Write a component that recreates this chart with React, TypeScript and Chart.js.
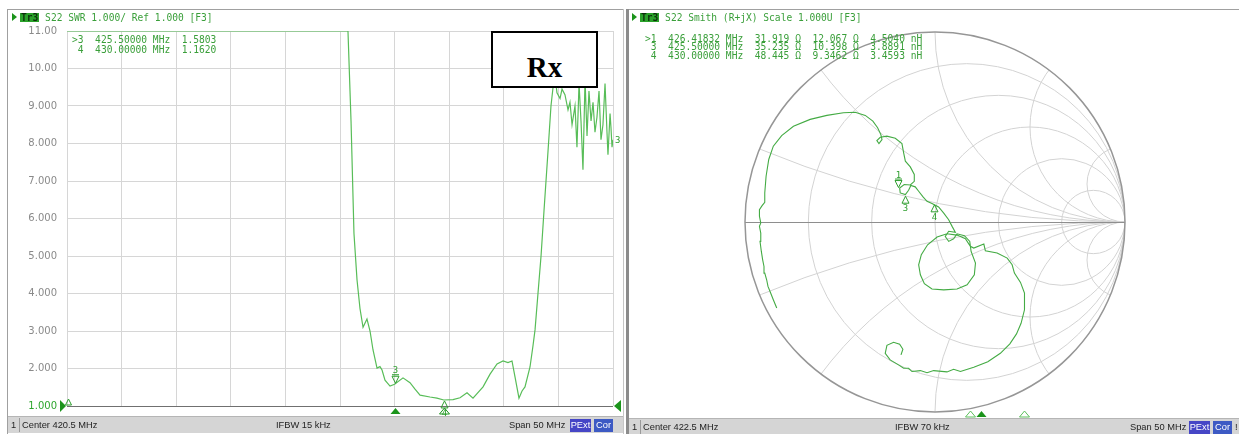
import React, { useEffect, useRef } from 'react';
import { Chart, registerables } from 'chart.js';

Chart.register(...registerables);

// ---------- Left panel: S22 SWR ----------
const swrCenterMHz = 420.5;
const swrSpanMHz = 50;
const swrIfbw = '15 kHz';
const swrGridFreqMHz = [395.5, 400.5, 405.5, 410.5, 415.5, 420.5, 425.5, 430.5, 435.5, 440.5, 445.5];
const swrTickValues = [1, 2, 3, 4, 5, 6, 7, 8, 9, 10, 11];
const swrTickLabels = ['1.000', '2.000', '3.000', '4.000', '5.000', '6.000', '7.000', '8.000', '9.000', '10.00', '11.00'];

const swrFreqMHz = [
  395.5, 421.23, 421.51, 421.78, 422.06, 422.33, 422.61, 422.97, 423.25, 423.52,
  423.89, 424.16, 424.35, 424.62, 425.08, 425.5, 426.27, 426.91, 427.37, 427.83,
  428.74, 429.38, 430.0, 430.85, 431.49, 432.13, 432.68, 433.6, 434.24, 434.88,
  435.43, 435.88, 436.25, 436.53, 436.89, 437.17, 437.44, 437.9, 438.17, 438.36,
  438.63, 438.91, 439.18, 439.55, 439.82, 440.01, 440.19, 440.37, 440.65, 440.83,
  441.1, 441.38, 441.56, 441.75, 442.02, 442.2, 442.39, 442.57, 442.75, 442.94,
  443.12, 443.3, 443.49, 443.67, 443.85, 444.03, 444.22, 444.4, 444.58, 444.77,
  444.95, 445.04, 445.23, 445.32, 445.41, 445.5,
];
const swrValue = [
  11, 11, 8.6, 5.6, 4.36, 3.6, 3.1, 3.32, 3.0, 2.5,
  2.01, 2.05, 1.96, 1.69, 1.53, 1.58, 1.75, 1.62, 1.45, 1.29,
  1.24, 1.21, 1.16, 1.17, 1.22, 1.35, 1.21, 1.51, 1.85, 2.12,
  2.2, 2.16, 2.2, 1.77, 1.21, 1.4, 1.51, 2.04, 2.6, 3.03,
  4.0, 5.0, 6.2, 7.8, 9.0, 9.5, 9.8, 9.35, 9.2, 9.45,
  9.3, 8.9, 9.1, 8.5, 9.0, 7.9, 9.6, 8.6, 7.3, 9.7,
  8.2, 9.4, 8.6, 9.1, 8.3, 8.7, 9.4, 8.1, 8.5, 9.6,
  8.3, 7.7, 8.8, 8.4, 7.9, 8.1,
];
const swrMarkerIds = ['3', '4'];
const swrMarkerFreqMHz = [425.5, 430.0];
const swrMarkerValue = [1.5803, 1.162];

// ---------- Right panel: S22 Smith ----------
const smithCenterMHz = 422.5;
const smithSpanMHz = 50;
const smithIfbw = '70 kHz';
const Z0 = 50;
const smithResistanceCircles = [0.2, 0.5, 1, 2, 5];
const smithReactanceArcs = [0.2, 0.5, 1, 2, 5];

const smithRe = [
  -0.833, -0.851, -0.865, -0.879, -0.886, -0.896, -0.9, -0.907, -0.914, -0.921,
  -0.917, -0.924, -0.917, -0.924, -0.924, -0.91, -0.896, -0.896, -0.889, -0.875,
  -0.851, -0.807, -0.745, -0.657, -0.569, -0.482, -0.42, -0.367, -0.327, -0.302,
  -0.285, -0.279, -0.295, -0.306, -0.288, -0.253, -0.209, -0.174, -0.165, -0.156,
  -0.13, -0.109, -0.109, -0.13, -0.162, -0.186, -0.183, -0.156, -0.139, -0.127,
  -0.104, -0.086, -0.063, -0.042, -0.016, 0.019, 0.046, 0.072, 0.09, 0.107,
  0.072, 0.054, 0.072, 0.098, 0.116, 0.155, 0.183, 0.19, 0.213, 0.207,
  0.169, 0.116, 0.046, -0.016, -0.056, -0.077, -0.086, -0.072, -0.039, 0.011,
  0.063, 0.116, 0.16, 0.186, 0.204, 0.257, 0.265, 0.327, 0.38, 0.406,
  0.418, 0.45, 0.471, 0.471, 0.453, 0.429, 0.394, 0.344, 0.278, 0.204,
  0.134, 0.098, 0.063, -0.007, -0.042, -0.077, -0.121, -0.139, -0.165, -0.192,
  -0.236, -0.262, -0.253, -0.218, -0.186, -0.169, -0.179,
];
const smithIm = [
  -0.453, -0.409, -0.374, -0.339, -0.304, -0.269, -0.234, -0.199, -0.155, -0.102,
  -0.058, -0.023, -0.005, 0.03, 0.065, 0.086, 0.104, 0.153, 0.241, 0.329,
  0.399, 0.455, 0.504, 0.54, 0.561, 0.575, 0.578, 0.561, 0.531, 0.496,
  0.46, 0.434, 0.413, 0.429, 0.446, 0.452, 0.441, 0.413, 0.364, 0.32,
  0.29, 0.25, 0.214, 0.195, 0.197, 0.179, 0.153, 0.144, 0.167, 0.192,
  0.185, 0.162, 0.132, 0.109, 0.097, 0.079, 0.047, 0.012, -0.023, -0.054,
  -0.049, -0.076, -0.102, -0.088, -0.062, -0.072, -0.102, -0.155, -0.216, -0.278,
  -0.33, -0.353, -0.357, -0.353, -0.325, -0.278, -0.225, -0.172, -0.12, -0.079,
  -0.062, -0.069, -0.088, -0.128, -0.137, -0.116, -0.151, -0.163, -0.19, -0.225,
  -0.269, -0.318, -0.374, -0.462, -0.533, -0.589, -0.641, -0.691, -0.735, -0.764,
  -0.787, -0.775, -0.789, -0.782, -0.793, -0.782, -0.787, -0.77, -0.77, -0.752,
  -0.726, -0.691, -0.649, -0.633, -0.643, -0.67, -0.699,
];
const smithMarkerIds = ['1', '3', '4'];
const smithMarkerFreqMHz = [426.41832, 425.5, 430.0];
const smithMarkerR = [31.919, 35.235, 48.445];
const smithMarkerX = [12.067, 10.398, 9.3462];
const smithMarkerL = [4.504, 3.8891, 3.4593];

// ---------- styles ----------
const GREEN_TRACE = '#58bd58';
const GREEN_SMITH = '#44ab44';
const GREEN_MARK = '#2e9e2e';
const GREEN_FILL = '#1b941b';
const GREEN_TEXT = '#3a9f3a';
const MONO = '"DejaVu Sans Mono", monospace';
const SANS = '"Liberation Sans", Arial, sans-serif';

function tri(ctx: CanvasRenderingContext2D, x: number, tipY: number, baseY: number, hw: number, filled: boolean) {
  ctx.beginPath();
  ctx.moveTo(x, tipY);
  ctx.lineTo(x - hw, baseY);
  ctx.lineTo(x + hw, baseY);
  ctx.closePath();
  if (filled) ctx.fill();
  else ctx.stroke();
}

const swrOverlay: any = {
  id: 'swrOverlay',
  afterDatasetsDraw(chart: any) {
    const { ctx, chartArea: a, scales } = chart;
    const xs = scales.x;
    const ys = scales.y;
    ctx.save();
    ctx.lineWidth = 1;
    ctx.font = `9px ${MONO}`;
    ctx.textAlign = 'center';
    ctx.textBaseline = 'alphabetic';
    swrMarkerIds.forEach((id, i) => {
      const px = Math.round(xs.getPixelForValue(swrMarkerFreqMHz[i])) + 0.5;
      const py = ys.getPixelForValue(swrMarkerValue[i]);
      ctx.strokeStyle = GREEN_MARK;
      ctx.fillStyle = GREEN_MARK;
      if (i === 0) {
        tri(ctx, px, py - 1, py - 8, 3.5, false);
        ctx.beginPath();
        ctx.moveTo(px - 3.5, py - 9.5);
        ctx.lineTo(px + 3.5, py - 9.5);
        ctx.stroke();
        ctx.fillText(id, px, py - 11);
      } else {
        tri(ctx, px, py + 1, py + 8, 3.5, false);
        ctx.fillText(id, px, py + 16);
      }
      ctx.strokeStyle = GREEN_FILL;
      ctx.fillStyle = GREEN_FILL;
      tri(ctx, px, a.bottom + 2, a.bottom + 8, 5, i === 0);
    });
    // reference level markers
    const refY = ys.getPixelForValue(1);
    ctx.fillStyle = GREEN_FILL;
    ctx.beginPath();
    ctx.moveTo(a.left - 7, refY - 6);
    ctx.lineTo(a.left - 7, refY + 6);
    ctx.lineTo(a.left - 1, refY);
    ctx.closePath();
    ctx.fill();
    ctx.beginPath();
    ctx.moveTo(a.right + 8, refY - 6);
    ctx.lineTo(a.right + 8, refY + 6);
    ctx.lineTo(a.right + 1, refY);
    ctx.closePath();
    ctx.fill();
    ctx.strokeStyle = GREEN_MARK;
    tri(ctx, a.left + 1.5, refY - 7, refY - 1, 3, false);
    // trace number at the right end
    ctx.fillStyle = GREEN_MARK;
    ctx.textAlign = 'left';
    ctx.textBaseline = 'middle';
    ctx.fillText('3', a.right + 2, ys.getPixelForValue(swrValue[swrValue.length - 1]) + 1);
    ctx.restore();
  },
};

const smithGrid: any = {
  id: 'smithGrid',
  beforeDatasetsDraw(chart: any) {
    const { ctx, scales } = chart;
    const xs = scales.x;
    const ys = scales.y;
    const cx = xs.getPixelForValue(0);
    const cy = ys.getPixelForValue(0);
    const R = xs.getPixelForValue(1) - cx;
    ctx.save();
    ctx.beginPath();
    ctx.arc(cx, cy, R, 0, Math.PI * 2);
    ctx.clip();
    ctx.strokeStyle = '#d3d3d3';
    ctx.lineWidth = 1;
    smithResistanceCircles.forEach((r) => {
      ctx.beginPath();
      ctx.arc(xs.getPixelForValue(r / (1 + r)), cy, R / (1 + r), 0, Math.PI * 2);
      ctx.stroke();
    });
    smithReactanceArcs.forEach((xv) => {
      [1, -1].forEach((s) => {
        ctx.beginPath();
        ctx.arc(xs.getPixelForValue(1), ys.getPixelForValue(s / xv), R / xv, 0, Math.PI * 2);
        ctx.stroke();
      });
    });
    ctx.restore();
    ctx.save();
    ctx.strokeStyle = '#8e8e8e';
    ctx.lineWidth = 1.2;
    ctx.beginPath();
    ctx.moveTo(xs.getPixelForValue(-1), Math.round(cy) + 0.5);
    ctx.lineTo(xs.getPixelForValue(1), Math.round(cy) + 0.5);
    ctx.stroke();
    ctx.lineWidth = 1.5;
    ctx.strokeStyle = '#969696';
    ctx.beginPath();
    ctx.arc(cx, cy, R, 0, Math.PI * 2);
    ctx.stroke();
    ctx.restore();
  },
  afterDatasetsDraw(chart: any) {
    const { ctx, scales, width } = chart;
    const xs = scales.x;
    const ys = scales.y;
    const a = chart.chartArea;
    ctx.save();
    ctx.lineWidth = 1;
    ctx.font = `9px ${MONO}`;
    ctx.textAlign = 'center';
    ctx.textBaseline = 'alphabetic';
    const start = smithCenterMHz - smithSpanMHz / 2;
    smithMarkerIds.forEach((id, i) => {
      const r = smithMarkerR[i] / Z0;
      const xv = smithMarkerX[i] / Z0;
      const den = (r + 1) * (r + 1) + xv * xv;
      const gr = ((r - 1) * (r + 1) + xv * xv) / den;
      const gi = (2 * xv) / den;
      const px = Math.round(xs.getPixelForValue(gr)) + 0.5;
      const py = ys.getPixelForValue(gi);
      ctx.strokeStyle = GREEN_MARK;
      ctx.fillStyle = GREEN_MARK;
      if (i === 0) {
        tri(ctx, px, py - 1, py - 8, 3.5, false);
        ctx.beginPath();
        ctx.moveTo(px - 3.5, py - 9.5);
        ctx.lineTo(px + 3.5, py - 9.5);
        ctx.stroke();
        ctx.fillText(id, px, py - 11);
      } else {
        tri(ctx, px, py + 1, py + 8, 3.5, false);
        ctx.fillText(id, px, py + 16);
      }
      const bx = 10 + ((smithMarkerFreqMHz[i] - start) / smithSpanMHz) * (width - 19);
      ctx.strokeStyle = i === 0 ? GREEN_FILL : '#5cbf5c';
      ctx.fillStyle = GREEN_FILL;
      tri(ctx, Math.round(bx) + 0.5, a.bottom - 1, a.bottom + 5, 5, i === 0);
    });
    ctx.restore();
  },
};

function fmt5(v: number) {
  return v.toPrecision(5);
}

const swrReadout = swrMarkerIds.map(
  (id, i) => `${i === 0 ? '>' : ' '}${id}  ${swrMarkerFreqMHz[i].toFixed(5)} MHz  ${fmt5(swrMarkerValue[i])}`
);
const smithReadout = smithMarkerIds.map(
  (id, i) =>
    `${i === 0 ? '>' : ' '}${id}  ${smithMarkerFreqMHz[i].toFixed(5)} MHz  ${fmt5(smithMarkerR[i])} Ω  ${fmt5(
      smithMarkerX[i]
    )} Ω  ${fmt5(smithMarkerL[i])} nH`
);

function TitleBar({ left, text }: { left: number; text: string }) {
  return (
    <div
      style={{
        position: 'absolute',
        left,
        top: 12,
        height: 10,
        display: 'flex',
        alignItems: 'center',
        font: `9.6px ${MONO}`,
        color: GREEN_TEXT,
        whiteSpace: 'pre',
      }}
    >
      <span
        style={{
          display: 'inline-block',
          width: 0,
          height: 0,
          borderTop: '4.5px solid transparent',
          borderBottom: '4.5px solid transparent',
          borderLeft: `5px solid ${GREEN_FILL}`,
          marginRight: 3,
        }}
      />
      <span
        style={{
          display: 'inline-block',
          height: 9,
          lineHeight: '9px',
          background: '#2aa22a',
          color: '#0a2e0a',
          padding: '0 1px',
          fontWeight: 'bold',
        }}
      >
        Tr3
      </span>
      <span> {text}</span>
    </div>
  );
}

function StatusBar({
  left,
  top,
  width,
  center,
  ifbw,
  span,
  ifbwX,
  spanX,
  boxX,
  bang,
}: {
  left: number;
  top: number;
  width: number;
  center: number;
  ifbw: string;
  span: number;
  ifbwX: number;
  spanX: number;
  boxX: number;
  bang: boolean;
}) {
  const base: any = { position: 'absolute', top: 0, height: 17, lineHeight: '17px', whiteSpace: 'pre' };
  const box: any = {
    position: 'absolute',
    top: 2,
    height: 13,
    lineHeight: '13px',
    background: '#4646c6',
    color: '#ffffff',
    textAlign: 'center',
  };
  return (
    <div
      style={{
        position: 'absolute',
        left,
        top,
        width,
        height: 17,
        background: '#d5d5d5',
        borderTop: '1px solid #b5b5b5',
        font: `9.3px ${SANS}`,
        color: '#1e1e1e',
        boxSizing: 'border-box',
      }}
    >
      <span style={{ ...base, left: 3 }}>1</span>
      <span style={{ position: 'absolute', left: 11, top: 1, width: 1, height: 14, background: '#9a9a9a' }} />
      <span style={{ ...base, left: 14 }}>{`Center ${center} MHz`}</span>
      <span style={{ ...base, left: ifbwX }}>{`IFBW ${ifbw}`}</span>
      <span style={{ ...base, left: spanX }}>{`Span ${span} MHz`}</span>
      <span style={{ ...box, left: boxX, width: 21 }}>PExt</span>
      <span style={{ ...box, left: boxX + 24, width: 19, background: '#3d5ac4' }}>Cor</span>
      {bang ? <span style={{ ...base, left: boxX + 46 }}>!</span> : null}
    </div>
  );
}

export default function App() {
  const swrRef = useRef<HTMLCanvasElement | null>(null);
  const smithRef = useRef<HTMLCanvasElement | null>(null);

  useEffect(() => {
    const swrChart = new Chart(swrRef.current as HTMLCanvasElement, {
      type: 'line',
      data: {
        datasets: [
          {
            data: swrFreqMHz.map((f, i) => ({ x: f, y: swrValue[i] })),
            borderColor: GREEN_TRACE,
            borderWidth: 1.2,
            pointRadius: 0,
            tension: 0,
            fill: false,
          },
        ],
      },
      options: {
        animation: false,
        responsive: false,
        maintainAspectRatio: false,
        layout: { padding: { left: 0, right: 11, top: 3, bottom: 2 } },
        plugins: { legend: { display: false }, tooltip: { enabled: false } },
        scales: {
          x: {
            type: 'linear',
            min: swrCenterMHz - swrSpanMHz / 2,
            max: swrCenterMHz + swrSpanMHz / 2,
            afterBuildTicks: (s: any) => {
              s.ticks = swrGridFreqMHz.map((v) => ({ value: v }));
            },
            afterFit: (s: any) => {
              s.height = 0;
            },
            ticks: { display: false },
            grid: { color: '#d6d6d6', drawTicks: false, lineWidth: 1 },
            border: { display: false },
          },
          y: {
            type: 'linear',
            min: 1,
            max: 11,
            afterBuildTicks: (s: any) => {
              s.ticks = swrTickValues.map((v) => ({ value: v }));
            },
            afterFit: (s: any) => {
              s.width = 60;
            },
            ticks: {
              callback: (v: any) => swrTickLabels[swrTickValues.indexOf(Number(v))],
              color: (c: any) => (c.tick && c.tick.value === 1 ? '#2ea62e' : '#8a8a8a'),
              font: { family: 'DejaVu Sans', size: 10 },
              padding: 10,
            },
            grid: {
              color: (c: any) => (c.tick && c.tick.value === 1 ? '#707070' : '#d6d6d6'),
              drawTicks: false,
              lineWidth: 1,
            },
            border: { display: false },
          },
        },
      } as any,
      plugins: [swrOverlay],
    });

    const smithChart = new Chart(smithRef.current as HTMLCanvasElement, {
      type: 'scatter',
      data: {
        datasets: [
          {
            data: smithRe.map((r, i) => ({ x: r, y: smithIm[i] })),
            showLine: true,
            borderColor: GREEN_SMITH,
            borderWidth: 1.1,
            pointRadius: 0,
            tension: 0,
          },
        ],
      },
      options: {
        animation: false,
        responsive: false,
        maintainAspectRatio: false,
        layout: { padding: { left: 115, right: 114, top: 10, bottom: 6 } },
        plugins: { legend: { display: false }, tooltip: { enabled: false } },
        scales: {
          x: { type: 'linear', min: -1, max: 1, display: false },
          y: { type: 'linear', min: -1, max: 1, display: false },
        },
      } as any,
      plugins: [smithGrid],
    });

    return () => {
      swrChart.destroy();
      smithChart.destroy();
    };
  }, []);

  return (
    <div
      style={{
        position: 'absolute',
        left: 0,
        top: 0,
        width: 1239,
        height: 434,
        background: '#ffffff',
        overflow: 'hidden',
      }}
    >
      {/* frames */}
      <div style={{ position: 'absolute', left: 7, top: 9, width: 1, height: 425, background: '#a0a0a0' }} />
      <div style={{ position: 'absolute', left: 7, top: 9, width: 617, height: 1, background: '#a0a0a0' }} />
      <div style={{ position: 'absolute', left: 623, top: 9, width: 1, height: 425, background: '#c6c6c6' }} />
      <div style={{ position: 'absolute', left: 626, top: 9, width: 3, height: 425, background: '#8c8c8c' }} />
      <div style={{ position: 'absolute', left: 629, top: 9, width: 610, height: 1, background: '#a0a0a0' }} />

      <canvas
        ref={swrRef}
        width={617}
        height={407}
        style={{ position: 'absolute', left: 7, top: 15, width: 617, height: 407 }}
      />
      <canvas
        ref={smithRef}
        width={609}
        height={396}
        style={{ position: 'absolute', left: 630, top: 22, width: 609, height: 396 }}
      />

      <TitleBar left={12} text="S22 SWR 1.000/ Ref 1.000 [F3]" />
      <TitleBar left={632} text="S22 Smith (R+jX) Scale 1.000U [F3]" />

      <div
        style={{
          position: 'absolute',
          left: 72,
          top: 35,
          font: `9.6px ${MONO}`,
          lineHeight: '9.5px',
          color: GREEN_TEXT,
          whiteSpace: 'pre',
        }}
      >
        {swrReadout.map((t) => (
          <div key={t}>{t}</div>
        ))}
      </div>
      <div
        style={{
          position: 'absolute',
          left: 645,
          top: 35,
          font: `9.6px ${MONO}`,
          lineHeight: '8.3px',
          color: GREEN_TEXT,
          whiteSpace: 'pre',
        }}
      >
        {smithReadout.map((t) => (
          <div key={t}>{t}</div>
        ))}
      </div>

      {/* Rx label box */}
      <div
        style={{
          position: 'absolute',
          left: 491,
          top: 31,
          width: 107,
          height: 57,
          border: '2px solid #000',
          background: '#fff',
          boxSizing: 'border-box',
        }}
      >
        <span
          style={{
            position: 'absolute',
            left: 0,
            width: 103,
            top: 20,
            textAlign: 'center',
            font: 'bold 29px "Liberation Serif", "Times New Roman", serif',
            lineHeight: '29px',
            color: '#000',
          }}
        >
          Rx
        </span>
      </div>

      <StatusBar
        left={8}
        top={416}
        width={615}
        center={swrCenterMHz}
        ifbw={swrIfbw}
        span={swrSpanMHz}
        ifbwX={268}
        spanX={501}
        boxX={562}
        bang={false}
      />
      <StatusBar
        left={629}
        top={418}
        width={610}
        center={smithCenterMHz}
        ifbw={smithIfbw}
        span={smithSpanMHz}
        ifbwX={266}
        spanX={501}
        boxX={560}
        bang={true}
      />
    </div>
  );
}
